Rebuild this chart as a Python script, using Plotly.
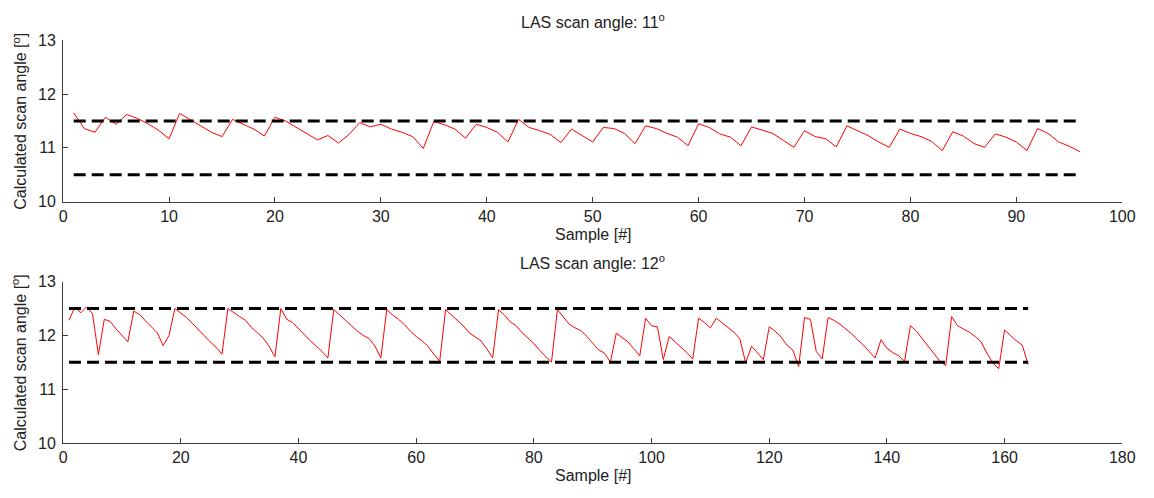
import plotly.graph_objects as go

# Calculated scan angle per sample, LAS scan angle 11 deg
angle_11 = [
    11.65, 11.36, 11.29, 11.57, 11.44, 11.62, 11.55, 11.45, 11.33, 11.17,
    11.64, 11.53, 11.41, 11.29, 11.21, 11.53, 11.44, 11.35, 11.22, 11.57,
    11.50, 11.38, 11.27, 11.15, 11.23, 11.09, 11.25, 11.47, 11.39, 11.44,
    11.35, 11.29, 11.21, 10.99, 11.49, 11.43, 11.35, 11.18, 11.44, 11.38,
    11.29, 11.11, 11.53, 11.38, 11.32, 11.25, 11.10, 11.35, 11.23, 11.11,
    11.38, 11.36, 11.27, 11.08, 11.41, 11.36, 11.27, 11.20, 11.04, 11.45,
    11.38, 11.26, 11.20, 11.04, 11.39, 11.33, 11.27, 11.14, 11.01, 11.32,
    11.21, 11.17, 11.02, 11.41, 11.32, 11.23, 11.11, 11.01, 11.35, 11.27,
    11.21, 11.12, 10.95, 11.30, 11.22, 11.08, 11.01, 11.26, 11.20, 11.11,
    10.95, 11.36, 11.27, 11.11, 11.03, 10.93,
]

# Calculated scan angle per sample, LAS scan angle 12 deg
angle_12 = [
    12.28, 12.53, 12.42, 12.53, 12.40, 11.64, 12.30, 12.26, 12.12, 12.00,
    11.88, 12.45, 12.39, 12.27, 12.15, 12.05, 11.81, 12.00, 12.50, 12.42,
    12.33, 12.22, 12.10, 12.00, 11.88, 11.78, 11.65, 12.50, 12.42, 12.35,
    12.28, 12.15, 12.05, 11.95, 11.80, 11.60, 12.50, 12.30, 12.24, 12.12,
    12.02, 11.90, 11.80, 11.70, 11.58, 12.48, 12.38, 12.28, 12.18, 12.08,
    12.00, 11.94, 11.80, 11.58, 12.48, 12.38, 12.30, 12.20, 12.08, 11.98,
    11.90, 11.80, 11.65, 11.52, 12.48, 12.38, 12.28, 12.18, 12.05, 11.98,
    11.90, 11.75, 11.58, 12.48, 12.38, 12.25, 12.18, 12.05, 11.95, 11.85,
    11.72, 11.61, 11.50, 12.48, 12.35, 12.21, 12.14, 12.09, 11.98, 11.86,
    11.73, 11.67, 11.50, 12.04, 11.96, 11.88, 11.75, 11.62, 12.32, 12.18,
    12.16, 11.55, 11.98, 11.88, 11.79, 11.68, 11.56, 12.32, 12.24, 12.14,
    12.32, 12.23, 12.14, 12.06, 11.94, 11.49, 11.80, 11.68, 11.55, 12.16,
    12.08, 11.97, 11.82, 11.73, 11.42, 12.33, 12.30, 11.70, 11.56, 12.33,
    12.28, 12.21, 12.12, 12.03, 11.92, 11.82, 11.70, 11.58, 11.92, 11.76,
    11.68, 11.62, 11.52, 12.18, 12.08, 11.94, 11.80, 11.64, 11.52, 11.44,
    12.35, 12.18, 12.12, 12.06, 11.98, 11.88, 11.67, 11.49, 11.38, 12.10,
    12.00, 11.90, 11.82, 11.46,
]

# Tolerance band (nominal angle +/- 0.5 deg)
band_11 = [10.5, 11.5]
band_12 = [11.5, 12.5]

samples_11 = list(range(1, len(angle_11) + 1))
samples_12 = list(range(1, len(angle_12) + 1))

W, H = 1154, 498
FONT = "Liberation Sans, Arial, sans-serif"
AXC = "#3c3c3c"
FS = 16


def px(x):
    """Pixel column -> paper fraction."""
    return x / W


def py(y):
    """Pixel row (from top) -> paper fraction."""
    return 1 - y / H


fig = go.Figure()

fig.add_trace(go.Scatter(x=samples_11, y=angle_11, mode="lines",
                         line=dict(color="#ff0000", width=1),
                         xaxis="x", yaxis="y", showlegend=False))
for b in band_11:
    fig.add_trace(go.Scatter(x=[samples_11[0], samples_11[-1]], y=[b, b], mode="lines",
                             line=dict(color="black", width=3, dash="12px,6px"),
                             xaxis="x", yaxis="y", showlegend=False))

fig.add_trace(go.Scatter(x=samples_12, y=angle_12, mode="lines",
                         line=dict(color="#ff0000", width=1),
                         xaxis="x2", yaxis="y2", showlegend=False))
for b in band_12:
    fig.add_trace(go.Scatter(x=[samples_12[0], samples_12[-1]], y=[b, b], mode="lines",
                             line=dict(color="black", width=3, dash="12px,6px"),
                             xaxis="x2", yaxis="y2", showlegend=False))

x_dom = [px(60), px(1135)]
y_dom_top = [py(200.5), py(33.5)]
y_dom_bot = [py(450.3), py(283.3)]

axis_common = dict(showline=True, linecolor=AXC, linewidth=1, mirror=False,
                   showgrid=False, zeroline=False, ticks="inside", ticklen=5,
                   tickcolor=AXC, tickfont=dict(family=FONT, size=FS, color="#222"))

fig.update_layout(
    width=W, height=H,
    margin=dict(l=0, r=0, t=0, b=0),
    paper_bgcolor="white", plot_bgcolor="white",
    xaxis=dict(domain=x_dom, range=[0, 100], tick0=0, dtick=10, anchor="y", **axis_common),
    yaxis=dict(domain=y_dom_top, range=[10, 13], tick0=10, dtick=1, anchor="x",
               ticklabelstandoff=3, **axis_common),
    xaxis2=dict(domain=x_dom, range=[0, 180], tick0=0, dtick=20, anchor="y2", **axis_common),
    yaxis2=dict(domain=y_dom_bot, range=[10, 13], tick0=10, dtick=1, anchor="x2",
                ticklabelstandoff=3, **axis_common),
)

cx = (x_dom[0] + x_dom[1]) / 2
txt = dict(family=FONT, size=FS, color="#222")
ann = [
    dict(text="LAS scan angle: 11<sup>o</sup>", x=cx, y=py(13)),
    dict(text="LAS scan angle: 12<sup>o</sup>", x=cx, y=py(263)),
    dict(text="Sample [#]", x=cx, y=py(234)),
    dict(text="Sample [#]", x=cx, y=py(484)),
    dict(text="Calculated scan angle [<sup>o</sup>]", x=px(16), y=py(117), textangle=-90),
    dict(text="Calculated scan angle [<sup>o</sup>]", x=px(16), y=py(367), textangle=-90),
]
fig.update_layout(annotations=[
    dict(xref="paper", yref="paper", showarrow=False, xanchor="center", yanchor="middle",
         font=txt, **a) for a in ann
])

fig.write_html("out.html")
